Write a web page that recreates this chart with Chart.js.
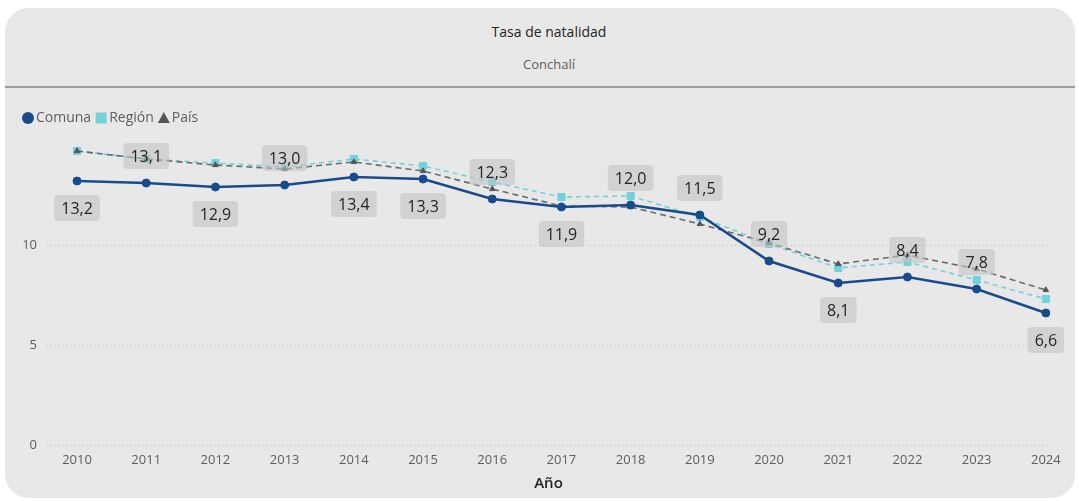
<!DOCTYPE html>
<html><head><meta charset="utf-8">
<script src="https://cdn.jsdelivr.net/npm/chart.js@4"></script>
<style>
html,body{margin:0;padding:0;background:#fff;width:1079px;height:501px;overflow:hidden;font-family:"Open Sans",sans-serif;}
#card{position:absolute;left:5px;top:8px;width:1070px;height:490px;background:#e8e8e8;border-radius:24px;overflow:hidden;}
#title{position:absolute;top:14px;left:0;width:1088px;text-align:center;font-size:14px;line-height:20px;color:#252423;}
#subtitle{position:absolute;top:47px;left:0;width:1088px;text-align:center;font-size:13px;line-height:18px;color:#605e5c;}
#sep{position:absolute;left:0;top:78px;width:1070px;height:2px;background:#9c9c9c;}
#wrap{position:absolute;left:0;top:80px;width:1070px;height:410px;}
</style></head>
<body>
<div id="card">
  <div id="title">Tasa de natalidad</div>
  <div id="subtitle">Conchalí</div>
  <div id="sep"></div>
  <div id="wrap"><canvas id="c" width="1070" height="410"></canvas></div>
</div>
<script>
const years = ['2010','2011','2012','2013','2014','2015','2016','2017','2018','2019','2020','2021','2022','2023','2024'];
const comuna = [13.2,13.1,12.9,13.0,13.4,13.3,12.3,11.9,12.0,11.5,9.2,8.1,8.4,7.8,6.6];
const region = [14.7,14.3,14.1,13.9,14.3,13.95,13.15,12.4,12.45,11.4,10.05,8.85,9.15,8.25,7.3];
const pais = [14.7,14.3,14.0,13.8,14.15,13.7,12.8,11.95,11.9,11.05,10.1,9.05,9.5,8.8,7.75];
const yTickValues = [0,5,10];
const seriesNames = ['Comuna','Región','País'];

const labelSide = ['below','above','below','above','below','below','above','below','above','above','above','below','above','above','below'];

const toPts = arr => arr.map((v,i)=>({x:i,y:v}));
const fontFam = '"Open Sans", sans-serif';

const labelPlugin = {
  id:'valueLabels',
  afterDatasetsDraw(chart){
    const meta = chart.getDatasetMeta(0);
    const ctx = chart.ctx;
    ctx.save();
    ctx.font = '16px ' + fontFam;
    meta.data.forEach((pt,i)=>{
      const txt = comuna[i].toFixed(1).replace('.', ',');
      const w = ctx.measureText(txt).width + 14, h = 26;
      const cy = pt.y + (labelSide[i] === 'above' ? -27 : 27);
      ctx.fillStyle = 'rgba(195,195,195,0.6)';
      ctx.beginPath();
      ctx.roundRect(pt.x - w/2, cy - h/2, w, h, 4);
      ctx.fill();
      ctx.fillStyle = '#252423';
      ctx.textAlign = 'center';
      ctx.textBaseline = 'middle';
      ctx.fillText(txt, pt.x, cy + 1);
    });
    ctx.restore();
  }
};

const legendPlugin = {
  id:'customLegend',
  afterDraw(chart){
    const ctx = chart.ctx;
    ctx.save();
    ctx.font = '14px ' + fontFam;
    ctx.textBaseline = 'middle';
    let x = 17; const y = 30;
    chart.data.datasets.forEach(ds=>{
      ctx.fillStyle = ds.pointBackgroundColor;
      ctx.beginPath();
      if (ds.pointStyle === 'circle') { ctx.arc(x+6, y, 6, 0, Math.PI*2); }
      else if (ds.pointStyle === 'rect') { ctx.rect(x+0.5, y-5.5, 11, 11); }
      else { ctx.moveTo(x+6, y-6); ctx.lineTo(x+12, y+5); ctx.lineTo(x, y+5); ctx.closePath(); }
      ctx.fill();
      x += 14;
      ctx.fillStyle = '#605e5c';
      ctx.fillText(ds.label, x, y);
      x += ctx.measureText(ds.label).width + 4;
    });
    ctx.restore();
  }
};

new Chart(document.getElementById('c'), {
  type:'line',
  data:{
    datasets:[
      {label:seriesNames[0], data:toPts(comuna), order:0, borderColor:'#174b8c', backgroundColor:'#174b8c',
       pointBackgroundColor:'#174b8c', pointBorderColor:'#174b8c', borderWidth:2.6, pointRadius:4, pointBorderWidth:1, pointStyle:'circle', tension:0},
      {label:seriesNames[1], data:toPts(region), order:2, borderColor:'#72d2da', backgroundColor:'#72d2da',
       pointBackgroundColor:'#72d2da', pointBorderColor:'#72d2da', borderWidth:1.6, borderDash:[5,4], pointRadius:5, pointBorderWidth:1, pointStyle:'rect', tension:0},
      {label:seriesNames[2], data:toPts(pais), order:1, borderColor:'#6b6b6b', backgroundColor:'#555555',
       pointBackgroundColor:'#555555', pointBorderColor:'#555555', borderWidth:1.6, borderDash:[6,4], pointRadius:3.2, pointBorderWidth:1, pointStyle:'triangle', tension:0}
    ]
  },
  options:{
    responsive:false, animation:false,
    layout:{padding:{top:51,left:0,right:25,bottom:0}},
    plugins:{legend:{display:false}, tooltip:{enabled:false}},
    scales:{
      x:{type:'linear', min:-0.434, max:14.06,
        afterBuildTicks(axis){ axis.ticks = years.map((_,i)=>({value:i})); },
        afterFit(s){ s.height = 53; },
        ticks:{callback:(v)=>years[v], color:'#605e5c', font:{size:13, family:fontFam}, padding:7, maxRotation:0, autoSkip:false},
        grid:{display:false, drawTicks:false}, border:{display:false},
        title:{display:true, text:'Año', color:'#252423', font:{size:15, family:fontFam, weight:'600'}, padding:{top:0,bottom:5}}
      },
      y:{min:0, max:15.3,
        afterBuildTicks(axis){ axis.ticks = yTickValues.map(v=>({value:v})); },
        afterFit(s){ s.width = 42; },
        ticks:{color:'#605e5c', font:{size:13, family:fontFam}, padding:10},
        grid:{color:'#bdbdbd', lineWidth:1, drawTicks:false},
        border:{display:false, dash:[1,3]}
      }
    }
  },
  plugins:[labelPlugin, legendPlugin]
});
</script>
</body></html>
